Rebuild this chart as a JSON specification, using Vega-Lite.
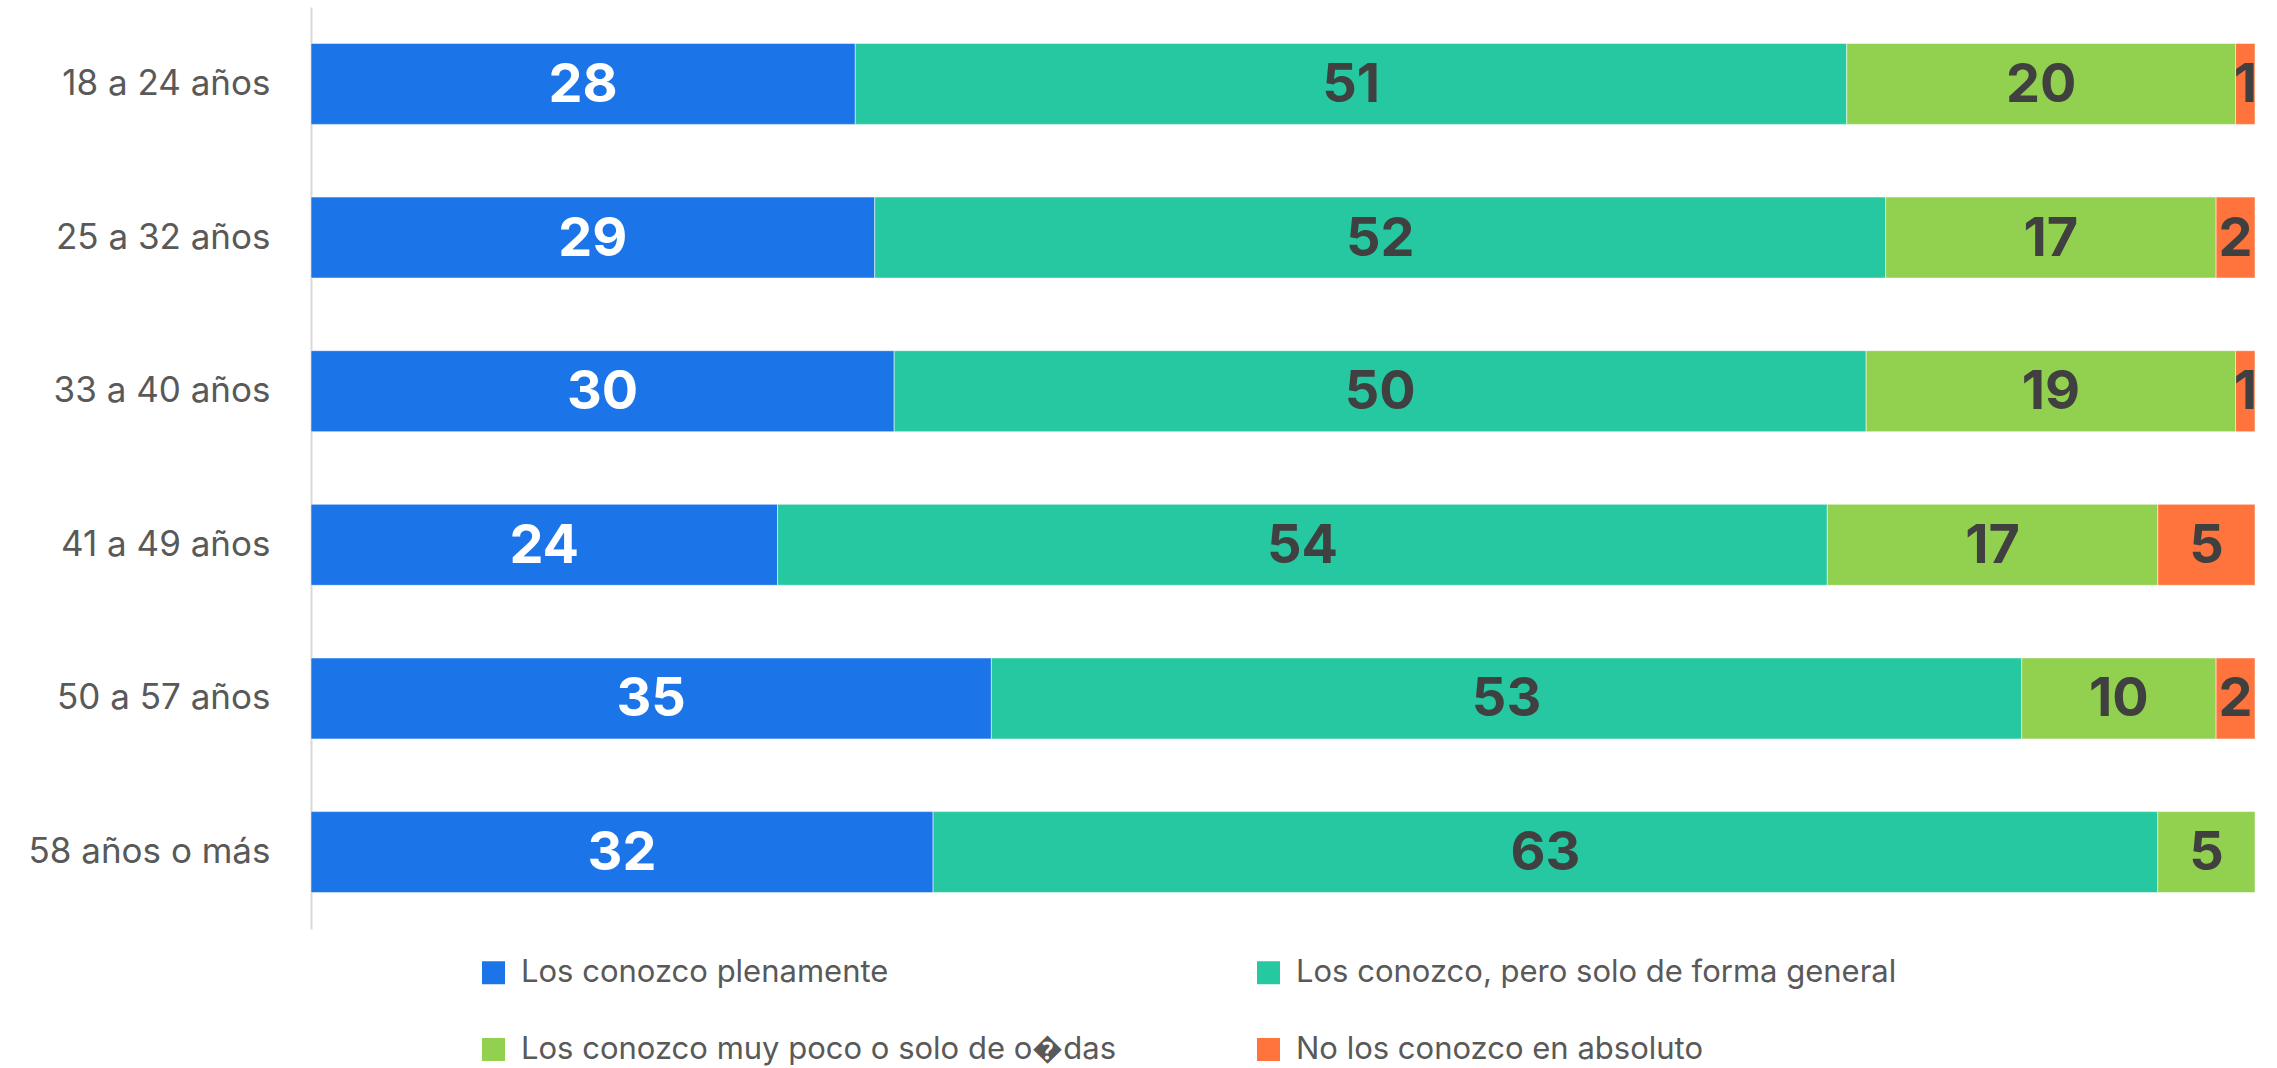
{
  "$schema": "https://vega.github.io/schema/vega-lite/v6.json",
  "width": 1944,
  "height": 922,
  "autosize": {"type": "none"},
  "padding": {"left": 311, "top": 7, "right": 22, "bottom": 139},
  "background": "white",
  "config": {"view": {"stroke": null}, "font": "Inter"},
  "data": {"values": [
    {"g": "18 a 24 años", "cat": "Los conozco plenamente", "k": 1, "v": 28},
    {"g": "18 a 24 años", "cat": "Los conozco, pero solo de forma general", "k": 2, "v": 51},
    {"g": "18 a 24 años", "cat": "Los conozco muy poco o solo de o\ufffddas", "k": 3, "v": 20},
    {"g": "18 a 24 años", "cat": "No los conozco en absoluto", "k": 4, "v": 1},
    {"g": "25 a 32 años", "cat": "Los conozco plenamente", "k": 1, "v": 29},
    {"g": "25 a 32 años", "cat": "Los conozco, pero solo de forma general", "k": 2, "v": 52},
    {"g": "25 a 32 años", "cat": "Los conozco muy poco o solo de o\ufffddas", "k": 3, "v": 17},
    {"g": "25 a 32 años", "cat": "No los conozco en absoluto", "k": 4, "v": 2},
    {"g": "33 a 40 años", "cat": "Los conozco plenamente", "k": 1, "v": 30},
    {"g": "33 a 40 años", "cat": "Los conozco, pero solo de forma general", "k": 2, "v": 50},
    {"g": "33 a 40 años", "cat": "Los conozco muy poco o solo de o\ufffddas", "k": 3, "v": 19},
    {"g": "33 a 40 años", "cat": "No los conozco en absoluto", "k": 4, "v": 1},
    {"g": "41 a 49 años", "cat": "Los conozco plenamente", "k": 1, "v": 24},
    {"g": "41 a 49 años", "cat": "Los conozco, pero solo de forma general", "k": 2, "v": 54},
    {"g": "41 a 49 años", "cat": "Los conozco muy poco o solo de o\ufffddas", "k": 3, "v": 17},
    {"g": "41 a 49 años", "cat": "No los conozco en absoluto", "k": 4, "v": 5},
    {"g": "50 a 57 años", "cat": "Los conozco plenamente", "k": 1, "v": 35},
    {"g": "50 a 57 años", "cat": "Los conozco, pero solo de forma general", "k": 2, "v": 53},
    {"g": "50 a 57 años", "cat": "Los conozco muy poco o solo de o\ufffddas", "k": 3, "v": 10},
    {"g": "50 a 57 años", "cat": "No los conozco en absoluto", "k": 4, "v": 2},
    {"g": "58 años o más", "cat": "Los conozco plenamente", "k": 1, "v": 32},
    {"g": "58 años o más", "cat": "Los conozco, pero solo de forma general", "k": 2, "v": 63},
    {"g": "58 años o más", "cat": "Los conozco muy poco o solo de o\ufffddas", "k": 3, "v": 5}
  ]},
  "encoding": {
    "y": {
      "field": "g", "type": "nominal", "sort": null, "title": null,
      "scale": {"paddingInner": 0.473, "paddingOuter": 0.237},
      "axis": {"ticks": false, "domainColor": "#d9d9d9", "domainWidth": 2, "labelFontSize": 35, "labelColor": "#595959", "labelPadding": 41, "labelLimit": 400}
    },
    "x": {"field": "v", "type": "quantitative", "stack": "zero", "scale": {"domain": [0, 100], "nice": false}, "axis": null},
    "order": {"field": "k", "type": "quantitative"}
  },
  "layer": [
    {
      "mark": {"type": "bar", "stroke": "white", "strokeWidth": 1, "strokeOpacity": 0.5},
      "encoding": {
        "color": {
          "field": "cat", "type": "nominal", "title": null,
          "scale": {
            "domain": ["Los conozco plenamente", "Los conozco, pero solo de forma general", "Los conozco muy poco o solo de o\ufffddas", "No los conozco en absoluto"],
            "range": ["#1b75e9", "#26c8a2", "#92d050", "#ff743c"]
          },
          "legend": {
            "orient": "none", "legendX": 167, "legendY": 950, "columns": 2, "direction": "horizontal",
            "symbolType": "square", "symbolSize": 529, "symbolStrokeWidth": 0,
            "labelFontSize": 31, "labelColor": "#595959", "labelOffset": 12, "labelLimit": 1000,
            "rowPadding": 45, "columnPadding": 136
          }
        }
      }
    },
    {
      "mark": {"type": "text", "fontSize": 54, "fontWeight": "bold", "baseline": "middle", "align": "center", "dy": 2},
      "encoding": {
        "x": {"field": "v", "type": "quantitative", "stack": "zero", "bandPosition": 0.5},
        "text": {"field": "v", "type": "quantitative"},
        "color": {"condition": {"test": "datum.k === 1", "value": "white"}, "value": "#404040"}
      }
    }
  ]
}
